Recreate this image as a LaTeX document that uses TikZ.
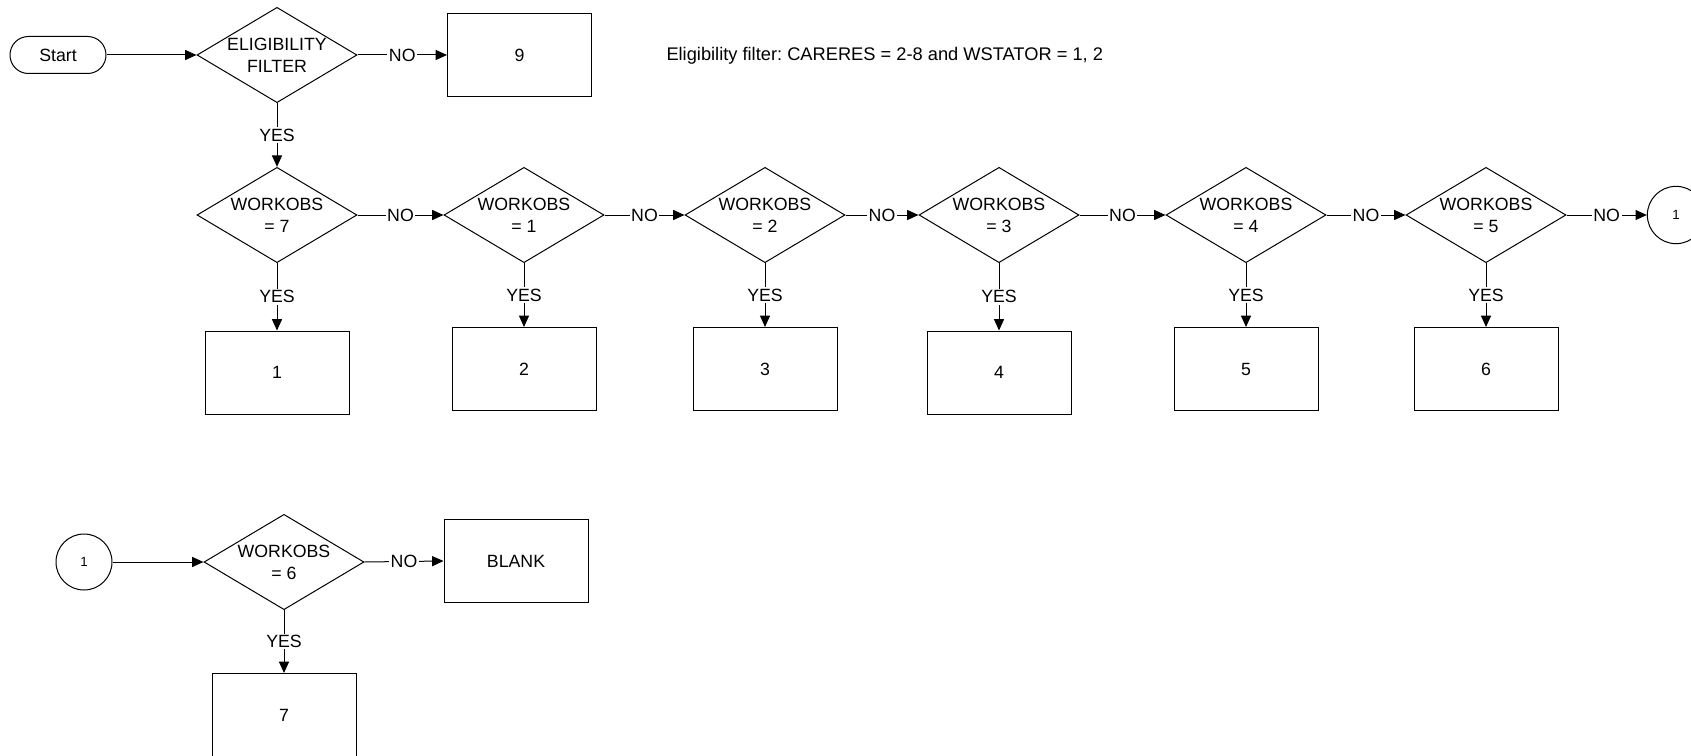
\documentclass[tikz,border=0pt]{standalone}
\usepackage{fontspec}
\setmainfont{Liberation Sans}
\usetikzlibrary{arrows.meta,shapes.geometric}
\frenchspacing
\begin{document}
\begin{tikzpicture}[x=0.75pt,y=-0.75pt,
  every node/.style={font=\fontsize{13.3}{16.5}\selectfont},
  line width=0.75pt,
  dec/.style={diamond,draw,minimum width=120pt,minimum height=71.5pt,inner sep=0pt},
  dtext/.style={align=center,inner sep=0pt},
  proc/.style={rectangle,draw,minimum width=108pt,minimum height=62.25pt,inner sep=0pt},
  term/.style={rectangle,draw,rounded corners=13.8pt,minimum width=72pt,minimum height=27.75pt},
  conn/.style={circle,draw,minimum size=43pt,inner sep=0pt,font=\fontsize{10}{12}\selectfont},
  arr/.style={-{Triangle[length=8.5pt,width=7.5pt]}},
  lbl/.style={fill=white,inner sep=1.2pt}
]
\useasboundingbox (0,0) rectangle (1691,756);
% row 1
\node[term] (start) at (58,55) {Start};
\node[dec] (elig) at (277,55) {};
\node[dtext] (eligt) at (elig) {ELIGIBILITY\\FILTER};
\node[proc] (b9) at (519.5,55) {9};
\node[anchor=west,inner sep=0pt,font=\fontsize{13.7}{16.5}\selectfont] (note) at (666,56) {Eligibility filter: CARERES = 2-8 and WSTATOR = 1, 2};
\draw[arr] (start) -- (elig.west);
\draw[arr] (elig.east) -- node[lbl] (no0) {NO} (b9.west);
% row 2
\node[dec] (d7) at (277,215) {};
\node[dtext] (d7t) at (d7) {WORKOBS\\= 7};
\node[dec] (d1) at (524,215) {};
\node[dtext] (d1t) at (d1) {WORKOBS\\= 1};
\node[dec] (d2) at (765,215) {};
\node[dtext] (d2t) at (d2) {WORKOBS\\= 2};
\node[dec] (d3) at (999,215) {};
\node[dtext] (d3t) at (d3) {WORKOBS\\= 3};
\node[dec] (d4) at (1246,215) {};
\node[dtext] (d4t) at (d4) {WORKOBS\\= 4};
\node[dec] (d5) at (1486,215) {};
\node[dtext] (d5t) at (d5) {WORKOBS\\= 5};
\node[conn] (c1) at (1676,215) {1};
\draw[arr] (elig.south) -- node[lbl] (yes0) {YES} (d7.north);
\draw[arr] (d7.east) -- node[lbl] (no1) {NO} (d1.west);
\draw[arr] (d1.east) -- node[lbl] (no2) {NO} (d2.west);
\draw[arr] (d2.east) -- node[lbl] (no3) {NO} (d3.west);
\draw[arr] (d3.east) -- node[lbl] (no4) {NO} (d4.west);
\draw[arr] (d4.east) -- node[lbl] (no5) {NO} (d5.west);
\draw[arr] (d5.east) -- node[lbl] (no6) {NO} (c1.west);
% row 3
\node[proc] (r1) at (277,372.5) {1};
\node[proc] (r2) at (524,369) {2};
\node[proc] (r3) at (765,369) {3};
\node[proc] (r4) at (999,372.5) {4};
\node[proc] (r5) at (1246,369) {5};
\node[proc] (r6) at (1486,369) {6};
\draw[arr] (d7.south) -- node[lbl] (y1) {YES} (r1.north);
\draw[arr] (d1.south) -- node[lbl] (y2) {YES} (r2.north);
\draw[arr] (d2.south) -- node[lbl] (y3) {YES} (r3.north);
\draw[arr] (d3.south) -- node[lbl] (y4) {YES} (r4.north);
\draw[arr] (d4.south) -- node[lbl] (y5) {YES} (r5.north);
\draw[arr] (d5.south) -- node[lbl] (y6) {YES} (r6.north);
% row 4
\node[conn,minimum size=42pt] (c2) at (84,562) {1};
\node[dec] (d6) at (284,562) {};
\node[dtext] (d6t) at (d6) {WORKOBS\\= 6};
\node[proc] (blank) at (516,561) {BLANK};
\node[proc] (r7) at (284,715) {7};
\draw[arr] (c2) -- (d6.west);
\draw[arr] (d6.east) -- node[lbl] (no7) {NO} (blank.west);
\draw[arr] (d6.south) -- node[lbl] (y7) {YES} (r7.north);
\end{tikzpicture}
\end{document}
